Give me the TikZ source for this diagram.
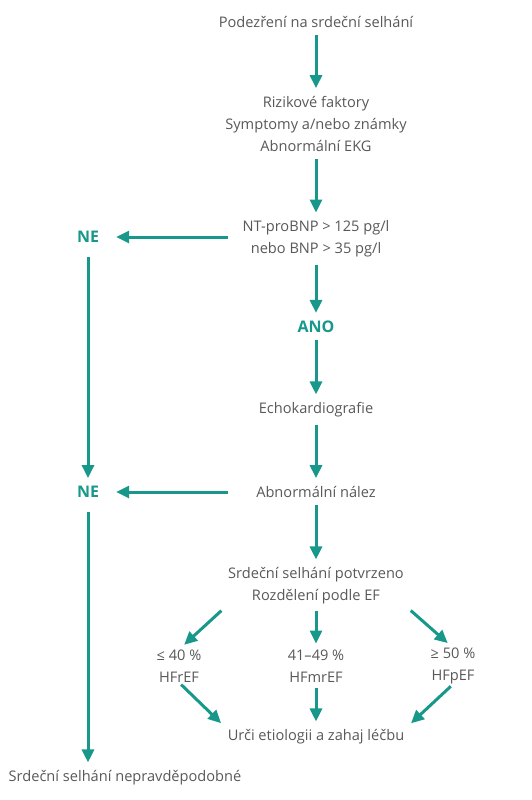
\documentclass[tikz,border=0pt]{standalone}
\usepackage{fontspec}
\setmainfont{Open Sans}
\usetikzlibrary{arrows.meta}
\definecolor{hfteal}{RGB}{24,152,138}
\definecolor{hfgray}{RGB}{88,88,88}
\begin{document}
\begin{tikzpicture}[x=1pt,y=-1pt,
        textnode/.style={inner sep=0pt, align=center, text=hfgray, font=\fontsize{14.6}{22}\selectfont},
        answernode/.style={inner sep=0pt, text=hfteal, font=\fontsize{16}{22}\selectfont\bfseries},
        arr/.style={line width=3pt, draw=hfteal, -{Triangle[length=13pt,width=12pt]}},
        ]
        \useasboundingbox (0,0) rectangle (532,800);

        % Main path
        \node[textnode] (susp) at (316,22) {Podezření na srdeční selhání};
        \node[textnode] (risk) at (316,124) {Rizikové faktory\\Symptomy a/nebo známky\\Abnormální EKG};
        \node[textnode] (bnp) at (316,239) {NT-proBNP > 125 pg/l\\nebo BNP > 35 pg/l};
        \node[answernode] (ano) at (316,327) {ANO};
        \node[textnode] (echo) at (316,410) {Echokardiografie};
        \node[textnode] (abn) at (316,492) {Abnormální nález};
        \node[textnode] (conf) at (316,586) {Srdeční selhání potvrzeno\\Rozdělení podle EF};

        % EF groups
        \node[textnode] (ref) at (179,666) {≤ 40 \%\\HFrEF};
        \node[textnode] (mref) at (316,666) {41–49 \%\\HFmrEF};
        \node[textnode] (pef) at (453,666) {≥ 50 \%\\HFpEF};
        \node[textnode] (treat) at (316,737) {Urči etiologii a zahaj léčbu};

        % No branch
        \node[answernode] (ne1) at (88,237) {NE};
        \node[answernode] (ne2) at (88,492) {NE};
        \node[textnode] (unlikely) at (125,778) {Srdeční selhání nepravděpodobné};

        % Down arrows
        \draw[arr, shorten <=7pt, shorten >=8pt] (susp) -- (risk);
        \draw[arr, shorten <=7pt, shorten >=8pt] (risk) -- (bnp);
        \draw[arr, shorten <=7pt, shorten >=8pt] (bnp) -- (ano);
        \draw[arr, shorten <=7pt, shorten >=8pt] (ano) -- (echo);
        \draw[arr, shorten <=7pt, shorten >=8pt] (echo) -- (abn);
        \draw[arr, shorten <=7pt, shorten >=8pt] (abn) -- (conf);

        % Left arrows
        \draw[arr, shorten <=14pt, shorten >=17pt] (bnp.west |- ne1) -- (ne1);
        \draw[arr, shorten <=14pt, shorten >=17pt] (bnp.west |- ne2) -- (ne2);
        \draw[arr, shorten <=14pt, shorten >=8pt] (ne1) -- (ne2);
        \draw[arr, shorten <=14pt, shorten >=8pt] (ne2) -- (ne2 |- unlikely.north);

        % Split by EF
        \draw[arr, shorten <=9pt, shorten >=7pt] (conf.south west) -- (ref.north);
        \draw[arr, shorten <=6pt, shorten >=6pt] (conf) -- (mref);
        \draw[arr, shorten <=9pt, shorten >=7pt] (conf.south east) -- (pef.north);
        \draw[arr, shorten <=3pt, shorten >=9pt] (ref.south) -- (treat.north west);
        \draw[arr, shorten <=6pt, shorten >=8pt] (mref) -- (treat);
        \draw[arr, shorten <=3pt, shorten >=9pt] (pef.south) -- (treat.north east);

    \end{tikzpicture}
\end{document}
